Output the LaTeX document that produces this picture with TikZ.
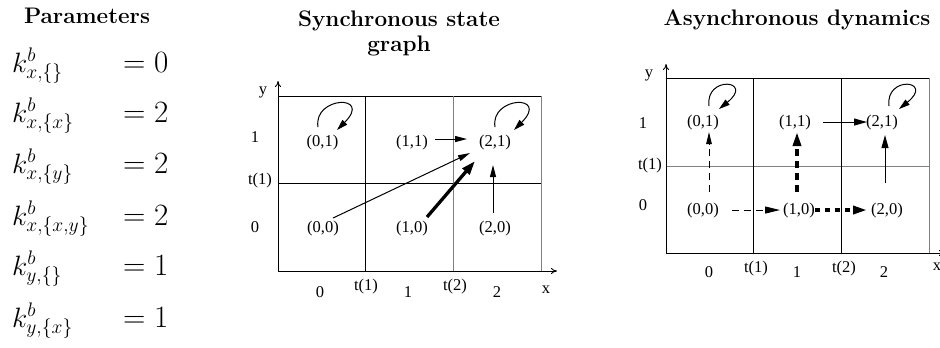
\RequirePackage{fix-cm}
\documentclass[tikz,border=0pt]{standalone}
\usepackage{fontspec}
\newfontfamily\tms{Liberation Serif}
\usetikzlibrary{arrows.meta,calc}
\begin{document}
\begin{tikzpicture}[x=1pt,y=-1pt,
  ttl/.style={font=\fontsize{22.5}{27}\selectfont\bfseries, inner sep=0pt, anchor=base},
  mth/.style={font=\fontsize{28}{34}\selectfont, inner sep=0pt, anchor=base west},
  eqs/.style={font=\fontsize{31}{36}\selectfont, inner sep=0pt, anchor=base west},
  lbl/.style={font=\tms\fontsize{16.5}{18}\selectfont, inner sep=0pt, anchor=base},
  st/.style={font=\tms\fontsize{16.5}{18}\selectfont, inner sep=0pt, anchor=base},
  gridb/.style={line width=0.9pt, black},
  gridg/.style={line width=0.9pt, black!50},
  axarr/.style={line width=0.9pt, -{To[length=6pt,width=6pt]}},
  thin/.style={line width=1pt, -{Triangle[length=12pt,width=6pt]}},
  thick/.style={line width=3.3pt, -{Triangle[length=14pt,width=9pt]}},
  loopst/.style={line width=1pt, -{Triangle[length=11pt,width=6.5pt]}},
  ]
\useasboundingbox (0,0) rectangle (940,348);

% ---------- Parameters ----------
\node[ttl] (tp) at (87,23.3) {Parameters};
\node[mth] (k1) at (12,72)  {$k^b_{x,\{\}}$};
\node[mth] (k2) at (12,122) {$k^b_{x,\{x\}}$};
\node[mth] (k3) at (12,173) {$k^b_{x,\{y\}}$};
\node[mth] (k4) at (12,225) {$k^b_{x,\{x,y\}}$};
\node[mth] (k5) at (12,275) {$k^b_{y,\{\}}$};
\node[mth] (k6) at (12,327) {$k^b_{y,\{x\}}$};
\node[eqs] (e1) at (123,72)  {$=0$};
\node[eqs] (e2) at (123,122) {$=2$};
\node[eqs] (e3) at (123,173) {$=2$};
\node[eqs] (e4) at (123,225) {$=2$};
\node[eqs] (e5) at (123,275) {$=1$};
\node[eqs] (e6) at (123,327) {$=1$};

% ---------- Synchronous state graph ----------
\node[ttl] (ts1) at (399,27) {Synchronous state};
\node[ttl] (ts2) at (399,51) {graph};

\draw[gridb] (278,96) -- (541,96);
\draw[gridb] (278,183) -- (541,183);
\draw[gridb] (278,271) -- (541,271);
\draw[gridb] (278,96) -- (278,271);
\draw[gridb] (365,96) -- (365,271);
\draw[gridg] (453,96) -- (453,271);
\draw[gridg] (541,96) -- (541,271);
\draw[axarr] (278,96) -- (278,81);
\draw[axarr] (541,271) -- (557,271);

\node[lbl] (sy)  at (263,94)  {y};
\node[lbl] (s1)  at (255,142) {1};
\node[lbl] (st1) at (260,184) {t(1)};
\node[lbl] (s0)  at (255,232) {0};
\node[lbl] (sx0) at (320,297) {0};
\node[lbl] (sxt1) at (366,290) {t(1)};
\node[lbl] (sx1) at (408,297) {1};
\node[lbl] (sxt2) at (455,290) {t(2)};
\node[lbl] (sx2) at (497,297) {2};
\node[lbl] (sxx) at (546,293) {x};

\node[st] (m01) at (322.5,146) {(0,1)};
\node[st] (m11) at (412,146)   {(1,1)};
\node[st] (m21) at (495,146)   {(2,1)};
\node[st] (m00) at (323,232)   {(0,0)};
\node[st] (m10) at (412,232)   {(1,0)};
\node[st] (m20) at (495,232)   {(2,0)};

\draw[loopst] ([shift={(-4.5,-15)}]m01.center) .. controls +(-5,-31) and +(36,-36) .. ([shift={(14.5,-12)}]m01.center);
\draw[loopst] ([shift={(0,-15)}]m21.center) .. controls +(-5,-31) and +(36,-36) .. ([shift={(19,-12)}]m21.center);

\draw[thin] ([shift={(23,-3)}]m11.center) -- ([shift={(-28,-3)}]m21.center);
\draw[thin] ([shift={(10,-10)}]m00.center) -- ([shift={(-25,11)}]m21.center);
\draw[thick] ([shift={(15,-11)}]m10.center) -- ([shift={(-20,19)}]m21.center);
\draw[thin] ([shift={(-2,-15)}]m20.center) -- ([shift={(-2,23)}]m21.center);

% ---------- Asynchronous dynamics ----------
\node[ttl] (ta) at (797,25) {Asynchronous dynamics};

\draw[gridb] (666,78) -- (929,78);
\draw[gridg] (666,166) -- (929,166);
\draw[gridb] (666,253) -- (929,253);
\draw[gridb] (666,78) -- (666,253);
\draw[gridb] (753,78) -- (753,253);
\draw[gridb] (841,78) -- (841,253);
\draw[gridg] (929,78) -- (929,253);
\draw[axarr] (666,78) -- (666,64);
\draw[axarr] (929,253) -- (945,253);

\node[lbl] (ay)  at (649,77)  {y};
\node[lbl] (a1l) at (643,128) {1};
\node[lbl] (at1) at (650,169) {t(1)};
\node[lbl] (a0l) at (643,210) {0};
\node[lbl] (ax0) at (709,277) {0};
\node[lbl] (axt1) at (756,272) {t(1)};
\node[lbl] (ax1) at (797,277) {1};
\node[lbl] (axt2) at (844,272) {t(2)};
\node[lbl] (ax2) at (884,277) {2};
\node[lbl] (axx) at (937,270) {x};

\node[st] (a01) at (703,126) {(0,1)};
\node[st] (a11) at (795,126) {(1,1)};
\node[st] (a21) at (882,126) {(2,1)};
\node[st] (a00) at (703,214) {(0,0)};
\node[st] (a10) at (799,214) {(1,0)};
\node[st] (a20) at (887,214) {(2,0)};

\draw[loopst] ([shift={(6,-16)}]a01.center) .. controls +(-4,-31) and +(36,-29) .. ([shift={(16,-13)}]a01.center);
\draw[loopst] ([shift={(7,-16)}]a21.center) .. controls +(-4,-31) and +(36,-29) .. ([shift={(17,-13)}]a21.center);

\draw[line width=1pt, -{Triangle[length=13pt,width=7pt]}] ([shift={(28,0)}]a11.center) -- ([shift={(-15,0)}]a21.center);
\draw[line width=1pt, dash pattern=on 7pt off 5pt, -{Triangle[length=12pt,width=5.5pt]}] ([shift={(6,-18)}]a00.center) -- ([shift={(6,10)}]a01.center);
\draw[line width=3.3pt, dash pattern=on 7pt off 5pt, -{Triangle[length=14pt,width=8pt]}] ([shift={(-2,-18)}]a10.center) -- ([shift={(2,10)}]a11.center);
\draw[line width=1pt, -{Triangle[length=13pt,width=7pt]}] ([shift={(-2,-27)}]a20.center) -- ([shift={(3,13)}]a21.center);
\draw[line width=1pt, dash pattern=on 7pt off 5pt, -{Triangle[length=15pt,width=7pt]}] ([shift={(29,0)}]a00.center) -- ([shift={(-19,0)}]a10.center);
\draw[line width=3.3pt, dash pattern=on 5pt off 5pt, -{Triangle[length=14pt,width=8pt]}] ([shift={(16,0)}]a10.center) -- ([shift={(-20,0)}]a20.center);
\end{tikzpicture}
\end{document}
